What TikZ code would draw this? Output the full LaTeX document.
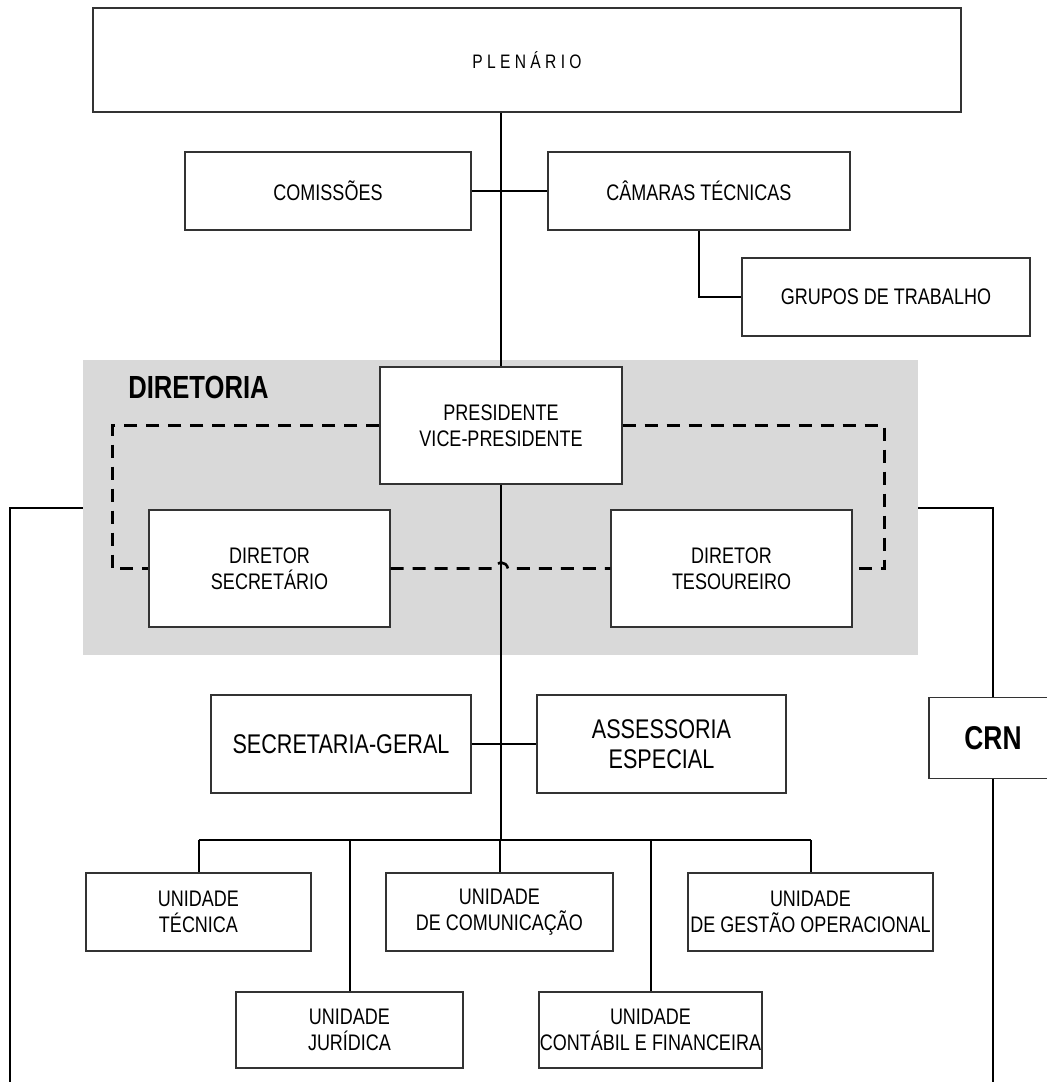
\documentclass[tikz,border=0pt]{standalone}
\usepackage{fontspec}
\setmainfont{Liberation Sans}[FakeStretch=0.8]
\usetikzlibrary{calc}
\definecolor{diretgray}{RGB}{217,217,217}

\begin{document}
\begin{tikzpicture}[
        x=1pt, y=-1pt,
        box/.style={draw=black!80, line width=1.2pt, fill=white, inner sep=0pt, align=center,
            font=\fontsize{22.5}{26.5}\selectfont},
        bigbox/.style={box, font=\fontsize{27}{30}\selectfont},
        link/.style={line width=2pt},
        dashlink/.style={line width=2.6pt, dash pattern=on 13pt off 9pt}
    ]
    \useasboundingbox (0,0) rectangle (1047,1082);
    \node[fill=diretgray, minimum width=835pt, minimum height=295pt] (diret) at (500.5,507.5) {};
    \node[font=\fontsize{32}{36}\selectfont\bfseries] (dirlbl) at (198.5,387) {DIRETORIA};

    \node[box, minimum width=868pt, minimum height=104pt, font=\fontsize{19.5}{23}\selectfont] (plen) at (527,60) {P L E N Á R I O};
    \node[box, minimum width=286pt, minimum height=78pt] (com) at (328,191) {COMISSÕES};
    \node[box, minimum width=302pt, minimum height=78pt] (cam) at (699,191) {CÂMARAS TÉCNICAS};
    \node[box, minimum width=288pt, minimum height=78pt] (grp) at (886,297) {GRUPOS DE TRABALHO};

    \node[box, minimum width=242pt, minimum height=117pt] (pres) at (501,425.5) {PRESIDENTE\\VICE-PRESIDENTE};
    \node[box, minimum width=241pt, minimum height=117pt] (dsec) at (269.5,568.5) {DIRETOR\\SECRETÁRIO};
    \node[box, minimum width=241pt, minimum height=117pt] (dtes) at (731.5,568.5) {DIRETOR\\TESOUREIRO};

    \node[bigbox, minimum width=260pt, minimum height=98pt] (sg) at (341,744) {SECRETARIA-GERAL};
    \node[bigbox, minimum width=249pt, minimum height=98pt] (ass) at (661.5,744) {ASSESSORIA\\ESPECIAL};
    \node[box, minimum width=128pt, minimum height=81pt, font=\fontsize{33}{37}\selectfont\bfseries] (crn) at (993,738) {CRN};

    \node[box, minimum width=225pt, minimum height=78pt] (ut) at (198.5,912) {UNIDADE\\TÉCNICA};
    \node[box, minimum width=227pt, minimum height=78pt] (uc) at (499.5,912) {UNIDADE\\DE COMUNICAÇÃO};
    \node[box, minimum width=245pt, minimum height=78pt] (ug) at (810.5,912) {UNIDADE\\DE GESTÃO OPERACIONAL};
    \node[box, minimum width=227pt, minimum height=76pt] (uj) at (349.5,1030) {UNIDADE\\JURÍDICA};
    \node[box, minimum width=223pt, minimum height=76pt] (uf) at (650.5,1030) {UNIDADE\\CONTÁBIL E FINANCEIRA};

    \coordinate (bus) at (501,840);
    \coordinate (lbot) at (10,1090);

    \draw[link] (plen.south -| pres.north) -- (pres.north);
    \draw[link] (com.east) -- (cam.west);
    \draw[link] (cam.south) |- (grp.west);
    \draw[link] (sg.east) -- (ass.west);
    \draw[link] (pres.south) -- (pres.south |- bus);
    \draw[link] (ut.north |- bus) -- (ug.north |- bus);
    \foreach \u in {ut,uj,uc,uf,ug}
    {
        \draw[link] (\u.north |- bus) -- (\u.north);
    }
    \draw[link] (diret.west) -| (lbot);
    \draw[link] (diret.east) -| (crn.north);
    \draw[link] (crn.south) -- (crn.south |- lbot);

    \draw[dashlink] (pres.west) -| ([xshift=-36pt]dsec.west) -- (dsec.west);
    \draw[dashlink] (pres.east) -| ([xshift=32pt]dtes.east) -- (dtes.east);
    \draw[dashlink] (dsec.east) -- ($(pres.south |- dsec.east)+(-7,0)$)
        .. controls +(2,-8) and +(-2,-8) .. ($(pres.south |- dsec.east)+(7,0)$) -- (dtes.west);
\end{tikzpicture}
\end{document}
